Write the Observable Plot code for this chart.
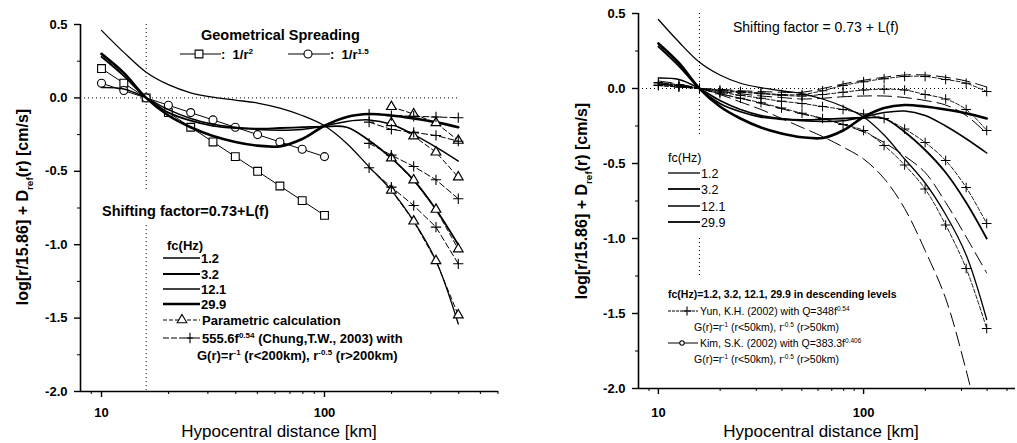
<!DOCTYPE html>
<html><head><meta charset="utf-8">
<script src="https://cdn.jsdelivr.net/npm/d3@7"></script>
<script src="https://cdn.jsdelivr.net/npm/@observablehq/plot@0.6"></script>
<style>
html,body{margin:0;padding:0;background:#fff;}
#wrap{position:relative;width:1017px;height:443px;overflow:hidden;background:#fff;}
#wrap svg{position:absolute;top:0;}
</style></head><body><div id="wrap"></div>
<script>
// ---------- data ----------
const distance = [10, 12.59, 15.86, 19.95, 25.12, 31.62, 39.81, 50.12, 63.10, 79.43, 100, 125.9, 158.5, 199.5, 251.2, 316.2, 398.1];
const fc1_2  = [0.46, 0.31, 0.175, 0.09, 0.035, 0.005, -0.015, -0.035, -0.07, -0.12, -0.19, -0.31, -0.47, -0.63, -0.84, -1.11, -1.54];
const fc3_2  = [0.28, 0.15, 0.0, -0.10, -0.155, -0.19, -0.205, -0.21, -0.205, -0.20, -0.195, -0.20, -0.29, -0.41, -0.56, -0.76, -1.0];
const fc12_1 = [0.07, 0.06, 0.0, -0.08, -0.14, -0.18, -0.20, -0.215, -0.22, -0.215, -0.19, -0.16, -0.15, -0.18, -0.25, -0.335, -0.43];
const fc29_9 = [0.30, 0.17, 0.0, -0.12, -0.20, -0.26, -0.30, -0.325, -0.33, -0.28, -0.19, -0.13, -0.11, -0.12, -0.14, -0.165, -0.20];
const fcLabels = ["1.2", "3.2", "12.1", "29.9"];

const geoDistance = [10, 12.59, 15.86, 19.95, 25.12, 31.62, 39.81, 50.12, 63.10, 79.43, 100];
const spreadR2  = [0.2, 0.1, 0, -0.1, -0.2, -0.3, -0.4, -0.5, -0.6, -0.7, -0.8];
const spreadR15 = [0.1, 0.05, 0, -0.05, -0.1, -0.15, -0.2, -0.25, -0.3, -0.35, -0.4];

const paramDistance = [199.5, 251.2, 316.2, 398.1];
const param1 = [-0.06, -0.11, -0.17, -0.29];
const param2 = [-0.17, -0.26, -0.37, -0.54];
const param3 = [-0.41, -0.56, -0.76, -1.03];
const param4 = [-0.63, -0.84, -1.11, -1.48];

const chungDistance = [158.5, 199.5, 251.2, 316.2, 398.1];
const chung1 = [-0.11, -0.12, -0.125, -0.13, -0.135];
const chung2 = [-0.165, -0.215, -0.235, -0.256, -0.295];
const chung3 = [-0.31, -0.39, -0.467, -0.558, -0.687];
const chung4 = [-0.476, -0.608, -0.733, -0.88, -1.13];

const yun1 = [0.02, 0.01, 0, -0.01, -0.02, -0.03, -0.04, -0.04, -0.015, 0.02, 0.045, 0.065, 0.08, 0.08, 0.06, 0.035, -0.02];
const yun2 = [0.02, 0.01, 0, -0.015, -0.025, -0.035, -0.045, -0.05, -0.04, -0.025, -0.01, -0.005, -0.01, -0.04, -0.07, -0.14, -0.28];
const yun3 = [0.03, 0.02, 0, -0.025, -0.045, -0.065, -0.085, -0.10, -0.12, -0.14, -0.17, -0.20, -0.27, -0.36, -0.48, -0.66, -0.90];
const yun4 = [0.04, 0.025, 0, -0.035, -0.065, -0.095, -0.13, -0.165, -0.20, -0.24, -0.28, -0.38, -0.51, -0.67, -0.91, -1.20, -1.60];
const kim1 = [0.03, 0.015, 0, -0.005, -0.015, -0.02, -0.025, -0.025, 0.0, 0.03, 0.055, 0.075, 0.09, 0.09, 0.075, 0.05, 0.01];
const kim2 = [0.03, 0.015, 0, -0.02, -0.035, -0.05, -0.06, -0.07, -0.065, -0.055, -0.05, -0.05, -0.06, -0.08, -0.11, -0.18, -0.30];
const kim3 = [0.04, 0.02, 0, -0.035, -0.065, -0.10, -0.135, -0.17, -0.20, -0.24, -0.29, -0.36, -0.45, -0.56, -0.76, -0.99, -1.23];
const kim4 = [0.05, 0.03, 0, -0.04, -0.09, -0.14, -0.20, -0.26, -0.32, -0.39, -0.47, -0.60, -0.80, -1.08, -1.40, -1.88, -2.45];

const refDistance = 15.86;
const leftRefSegments  = [[0.5, -0.63], [-0.87, -2.0]];
const rightRefSegments = [[0.5, -0.31], [-1.0, -1.25]];
const zeroLineEnd = 398.1;

const yTicks = [-2, -1.5, -1, -0.5, 0, 0.5];
const yMinor = [-1.75, -1.25, -0.75, -0.25, 0.25];
const xTicks = [10, 100];
const xMinorLeft  = [9, 20, 30, 40, 50, 60, 70, 80, 90, 200, 300, 400, 500, 600];
const xMinorRight = [9, 20, 30, 40, 50, 60, 70, 80, 90, 200, 300, 400, 500];

// ---------- helpers ----------
const FONT = "'Liberation Sans', Arial, sans-serif";
const rows = (xs, ys) => xs.map((x, i) => ({r: x, v: ys[i]}));
const fcStyles = [[fc1_2, 1.3], [fc3_2, 1.8], [fc12_1, 1.5], [fc29_9, 2.6]];

function axes(xDomain, xMinor, padX) {
  return [
    Plot.ruleX([xDomain[0]], {stroke: "#000", strokeWidth: 1.6}),
    Plot.ruleY([-2], {stroke: "#000", strokeWidth: 1.6}),
    Plot.axisY(yTicks, {tickSize: 6, tickPadding: 7, tickFormat: d => d.toFixed(1), label: null, strokeWidth: 1.4}),
    Plot.axisY(yMinor, {tickSize: 3, tickFormat: () => "", label: null}),
    Plot.axisX(xTicks, {tickSize: 6, tickPadding: padX, tickFormat: d => String(d), label: null, strokeWidth: 1.4}),
    Plot.axisX(xMinor, {tickSize: 3, tickFormat: () => "", label: null})
  ];
}
function refLines(segs, xDomain) {
  return [
    Plot.ruleY([{y: 0, x1: xDomain[0], x2: zeroLineEnd}], {y: "y", x1: "x1", x2: "x2", stroke: "#000", strokeWidth: 1, strokeDasharray: "1,3"}),
    Plot.ruleX(segs.map(s => ({x: refDistance, y1: s[0], y2: s[1]})), {x: "x", y1: "y1", y2: "y2", stroke: "#000", strokeWidth: 1, strokeDasharray: "1,3"})
  ];
}
function addText(svg, x, y, parts, o = {}) {
  const size = o.size || 13;
  const t = d3.select(svg).append("text")
    .attr("x", x).attr("y", y).attr("font-size", size)
    .attr("font-weight", o.weight || "normal").attr("font-family", FONT)
    .attr("text-anchor", o.anchor || "start").attr("fill", "#000");
  if (o.transform) t.attr("transform", o.transform);
  let cur = 0;
  for (const p of (Array.isArray(parts) ? parts : [parts])) {
    if (typeof p === "string") { t.append("tspan").attr("dy", -cur).text(p); cur = 0; }
    else {
      const target = p.sup !== undefined ? -size * 0.42 : size * 0.3;
      t.append("tspan").attr("dy", target - cur).attr("font-size", size * 0.62).text(p.sup !== undefined ? p.sup : p.sub);
      cur = target;
    }
  }
  return t;
}
function addLine(svg, x1, x2, y, w = 1, dash = null) {
  const l = d3.select(svg).append("line").attr("x1", x1).attr("x2", x2).attr("y1", y).attr("y2", y)
    .attr("stroke", "#000").attr("stroke-width", w);
  if (dash) l.attr("stroke-dasharray", dash);
}
function addSymbol(svg, type, r, x, y) {
  const map = {square: d3.symbolSquare, circle: d3.symbolCircle, triangle: d3.symbolTriangle, plus: d3.symbolPlus};
  d3.select(svg).append("path").attr("d", d3.symbol(map[type], Math.PI * r * r)())
    .attr("transform", `translate(${x},${y})`).attr("fill", type === "plus" ? "none" : "#fff")
    .attr("stroke", "#000").attr("stroke-width", 1.1);
}

// ---------- left panel ----------
const xDomL = [8.05, 603];
const left = Plot.plot({
  width: 510, height: 443,
  marginLeft: 80, marginRight: 12, marginTop: 24, marginBottom: 52,
  style: {fontFamily: FONT, fontSize: "13px", fontWeight: "bold", background: "#fff", overflow: "visible"},
  x: {type: "log", domain: xDomL},
  y: {domain: [-2, 0.5]},
  marks: [
    ...refLines(leftRefSegments, xDomL),
    Plot.line(rows(geoDistance, spreadR2), {x: "r", y: "v", stroke: "#000", strokeWidth: 1}),
    Plot.dot(rows(geoDistance, spreadR2), {x: "r", y: "v", symbol: "square", r: 4.4, fill: "#fff", stroke: "#000", strokeWidth: 1.1}),
    Plot.line(rows(geoDistance, spreadR15), {x: "r", y: "v", stroke: "#000", strokeWidth: 1}),
    Plot.dot(rows(geoDistance, spreadR15), {x: "r", y: "v", symbol: "circle", r: 4, fill: "#fff", stroke: "#000", strokeWidth: 1.1}),
    ...fcStyles.map(([ys, w]) => Plot.line(rows(distance, ys), {x: "r", y: "v", curve: "catmull-rom", stroke: "#000", strokeWidth: w})),
    ...[param1, param2, param3, param4].flatMap(ys => [
      Plot.line(rows(paramDistance, ys), {x: "r", y: "v", stroke: "#000", strokeWidth: 1, strokeDasharray: "5,3"}),
      Plot.dot(rows(paramDistance, ys), {x: "r", y: "v", symbol: "triangle", r: 3.6, fill: "#fff", stroke: "#000", strokeWidth: 1.2})
    ]),
    ...[chung1, chung2, chung3, chung4].flatMap(ys => [
      Plot.line(rows(chungDistance, ys), {x: "r", y: "v", stroke: "#000", strokeWidth: 1, strokeDasharray: "6,3"}),
      Plot.dot(rows(chungDistance, ys), {x: "r", y: "v", symbol: "plus", r: 3.4, stroke: "#000", strokeWidth: 1.1})
    ]),
    ...axes(xDomL, xMinorLeft, 10)
  ]
});
document.getElementById("wrap").appendChild(left);
left.style.left = "0px";

addText(left, 0, 0, ["log[r/15.86] + D", {sub: "ref"}, "(r) [cm/s]"], {size: 16, weight: "bold", anchor: "middle", transform: "translate(28,207) rotate(-90)"});
addText(left, 279, 437, "Hypocentral distance [km]", {size: 17, anchor: "middle"});
addText(left, 201, 40, "Geometrical Spreading", {size: 14.5, weight: "bold"});
addLine(left, 180, 221, 54);
addSymbol(left, "square", 4.4, 199, 54);
addText(left, 221, 59, [":  1/r", {sup: "2"}], {size: 13, weight: "bold"});
addLine(left, 288, 330, 54);
addSymbol(left, "circle", 4, 308, 54);
addText(left, 330, 59, [":  1/r", {sup: "1.5"}], {size: 13, weight: "bold"});
addText(left, 102, 216, "Shifting factor=0.73+L(f)", {size: 14.5, weight: "bold"});
addText(left, 167, 250, "fc(Hz)", {size: 13, weight: "bold"});
fcStyles.forEach(([ys, w], i) => {
  const y = [258, 274, 289, 304][i];
  addLine(left, 163, 200, y, w);
  addText(left, 201, y + 5, fcLabels[i], {size: 13, weight: "bold"});
});
addLine(left, 163, 200, 320, 1, "4,2");
addSymbol(left, "triangle", 3.6, 182, 320);
addText(left, 202, 325, "Parametric calculation", {size: 13, weight: "bold"});
addLine(left, 163, 200, 338, 1, "6,2");
addSymbol(left, "plus", 3.4, 190, 338);
addText(left, 202, 343, ["555.6f", {sup: "0.54"}, " (Chung,T.W., 2003) with"], {size: 13, weight: "bold"});
addText(left, 197, 360, ["G(r)=r", {sup: "-1"}, " (r<200km), r", {sup: "-0.5"}, " (r>200km)"], {size: 13, weight: "bold"});

// ---------- right panel ----------
const xDomR = [8.0, 550];
const right = Plot.plot({
  width: 507, height: 443,
  marginLeft: 128, marginRight: 2, marginTop: 13, marginBottom: 55,
  style: {fontFamily: FONT, fontSize: "13px", fontWeight: "bold", background: "#fff", overflow: "visible"},
  x: {type: "log", domain: xDomR},
  y: {domain: [-2, 0.5]},
  marks: [
    ...refLines(rightRefSegments, xDomR),
    ...[kim1, kim2, kim3, kim4].map(ys => Plot.line(rows(distance, ys), {x: "r", y: "v", curve: "catmull-rom", stroke: "#000", strokeWidth: 1, strokeDasharray: "14,6", clip: true})),
    ...[yun1, yun2, yun3, yun4].flatMap(ys => [
      Plot.line(rows(distance, ys), {x: "r", y: "v", curve: "catmull-rom", stroke: "#000", strokeWidth: 0.9, strokeDasharray: "4,2"}),
      Plot.dot(rows(distance, ys), {x: "r", y: "v", symbol: "plus", r: 3.2, stroke: "#000", strokeWidth: 1})
    ]),
    ...fcStyles.map(([ys, w]) => Plot.line(rows(distance, ys), {x: "r", y: "v", curve: "catmull-rom", stroke: "#000", strokeWidth: w})),
    ...axes(xDomR, xMinorRight, 13)
  ]
});
document.getElementById("wrap").appendChild(right);
right.style.left = "510px";

addText(right, 0, 0, ["log[r/15.86] + D", {sub: "ref"}, "(r) [cm/s]"], {size: 16, weight: "bold", anchor: "middle", transform: "translate(77,201) rotate(-90)"});
addText(right, 311, 437, "Hypocentral distance [km]", {size: 17, anchor: "middle"});
addText(right, 223, 32, "Shifting factor = 0.73 + L(f)", {size: 14});
addText(right, 158, 162, "fc(Hz)", {size: 12.5});
fcStyles.forEach(([ys, w], i) => {
  const y = [173, 189, 206, 222][i];
  addLine(right, 158, 190, y, Math.min(w, 1.8));
  addText(right, 191, y + 5, fcLabels[i], {size: 12.5});
});
addText(right, 158, 298, "fc(Hz)=1.2, 3.2, 12.1, 29.9 in descending levels", {size: 10.5, weight: "bold"});
addLine(right, 158, 188, 311, 1, "3,1");
addSymbol(right, "plus", 3, 177, 311);
addText(right, 190, 315, ["Yun, K.H. (2002) with Q=348f", {sup: "0.54"}], {size: 10.5});
addText(right, 184, 331, ["G(r)=r", {sup: "-1"}, " (r<50km), r", {sup: "-0.5"}, " (r>50km)"], {size: 10.5});
addLine(right, 158, 188, 343, 1);
addSymbol(right, "circle", 2.2, 172, 343);
addText(right, 190, 347, ["Kim, S.K. (2002) with Q=383.3f", {sup: "0.406"}], {size: 10.5});
addText(right, 184, 363, ["G(r)=r", {sup: "-1"}, " (r<50km), r", {sup: "-0.5"}, " (r>50km)"], {size: 10.5});
</script>
</body></html>
